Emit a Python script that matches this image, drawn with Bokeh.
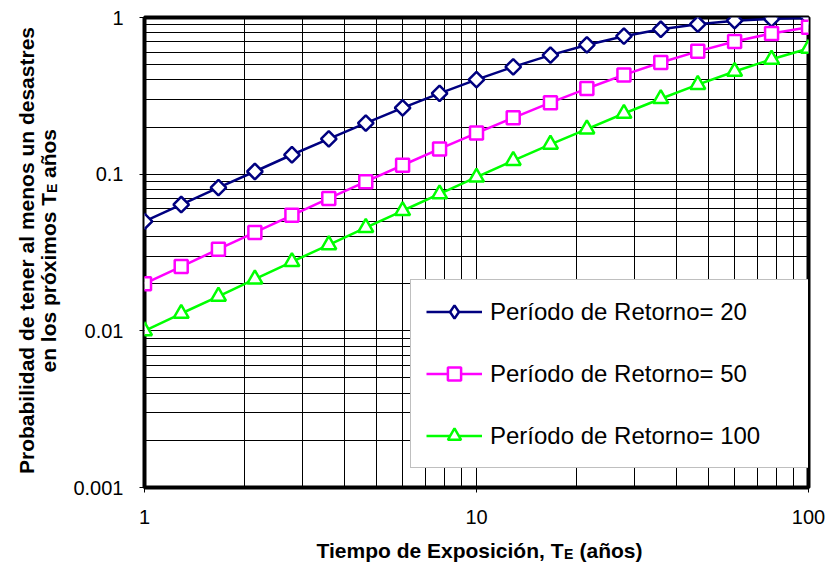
import math
from bokeh.plotting import figure
from bokeh.layouts import row, column
from bokeh.models import (Range1d, FixedTicker, NumeralTickFormatter, Legend, LegendItem, Label)
from bokeh.embed import file_html
from bokeh.resources import INLINE

# ---- data ----
te = [1, 1.29, 1.67, 2.15, 2.78, 3.59, 4.64, 5.99, 7.74, 10,
      12.9, 16.7, 21.5, 27.8, 35.9, 46.4, 59.9, 77.4, 100]
p20 = [0.050, 0.064, 0.082, 0.104, 0.133, 0.168, 0.212, 0.265, 0.328, 0.401,
       0.484, 0.575, 0.668, 0.760, 0.841, 0.907, 0.954, 0.981, 0.994]
p50 = [0.0200, 0.0257, 0.0332, 0.0425, 0.0546, 0.0700, 0.0895, 0.114, 0.145, 0.183,
       0.229, 0.286, 0.352, 0.430, 0.516, 0.608, 0.702, 0.791, 0.867]
p100 = [0.0100, 0.0129, 0.0166, 0.0214, 0.0276, 0.0354, 0.0456, 0.0584, 0.0748, 0.0956,
        0.122, 0.155, 0.194, 0.244, 0.303, 0.373, 0.452, 0.541, 0.634]
series_names = ["Período de Retorno= 20", "Período de Retorno= 50", "Período de Retorno= 100"]
x_ticks = [1, 10, 100]
y_ticks = [0.001, 0.01, 0.1, 1]

FONT = "Liberation Sans"
YT_W = 70      # width of the y-title strip
MAIN_H = 530   # height of the main chart
XT_H = 37      # height of the x-title strip

# ---------------- main chart ----------------
p = figure(width=830 - YT_W, height=MAIN_H, x_axis_type="log", y_axis_type="log",
           x_range=Range1d(1, 100), y_range=Range1d(0.001, 1),
           output_backend="svg", toolbar_location=None,
           min_border_left=74, min_border_right=22, min_border_top=17, min_border_bottom=43)
p.background_fill_color = "white"
p.border_fill_color = "white"
p.outline_line_color = "black"
p.outline_line_width = 4

x_minor = [d * k for d in (1, 10) for k in range(2, 10)]
y_minor = [d * k for d in (0.001, 0.01, 0.1) for k in range(2, 10)]
p.xaxis.ticker = FixedTicker(ticks=x_ticks, minor_ticks=x_minor)
p.yaxis.ticker = FixedTicker(ticks=y_ticks, minor_ticks=y_minor)
p.xaxis.formatter = NumeralTickFormatter(format="0")
p.yaxis.formatter = NumeralTickFormatter(format="0.[000]")

for ax in (p.xaxis, p.yaxis):
    ax.axis_line_color = None
    ax.major_tick_out = 5
    ax.major_tick_in = 0
    ax.major_tick_line_color = "black"
    ax.minor_tick_out = 0
    ax.minor_tick_in = 0
    ax.major_label_text_font = FONT
    ax.major_label_text_font_size = "20px"
    ax.major_label_text_color = "black"
p.xaxis.major_label_standoff = 17
p.yaxis.major_label_standoff = 16

for g in (p.xgrid, p.ygrid):
    g.grid_line_color = "black"
    g.grid_line_width = 1
    g.minor_grid_line_color = "black"
    g.minor_grid_line_width = 1

colors = ["#000080", "#FF00FF", "#00FF00"]
l1 = p.line(te, p20, line_color=colors[0], line_width=2.5)
# legend sample for series 1 (legend glyphs ignore marker angle); zero size on the chart
m1_leg = p.scatter(te, p20, marker="diamond", size=0, line_color=colors[0], line_width=2.5,
                   fill_color="white")
m1 = p.scatter(te, p20, marker="square", angle=math.pi / 4, size=11, line_color=colors[0],
               line_width=2.5, fill_color="white")
l2 = p.line(te, p50, line_color=colors[1], line_width=2.5)
m2 = p.scatter(te, p50, marker="square", size=13, line_color=colors[1],
               line_width=2.5, fill_color="white")
l3 = p.line(te, p100, line_color=colors[2], line_width=2.5)
m3 = p.scatter(te, p100, marker="triangle", size=15, line_color=colors[2],
               line_width=2.5, fill_color="white")

items = [LegendItem(label=series_names[0], renderers=[l1, m1_leg]),
         LegendItem(label=series_names[1], renderers=[l2, m2]),
         LegendItem(label=series_names[2], renderers=[l3, m3])]

legend = Legend(items=items, location=(266, 19), margin=0, padding=15,
                spacing=29, glyph_width=56, glyph_height=33, label_height=33,
                label_width=304, label_standoff=8,
                label_text_font=FONT, label_text_font_size="24px",
                label_text_color="black", label_text_baseline="middle",
                border_line_color="#808080", border_line_width=1,
                background_fill_color="white", background_fill_alpha=1)
p.add_layout(legend, "center")


def strip(w, h):
    f = figure(width=w, height=h, output_backend="svg", toolbar_location=None,
               x_axis_location=None, y_axis_location=None,
               min_border=0, min_border_left=0, min_border_right=0,
               min_border_top=0, min_border_bottom=0)
    f.grid.visible = False
    f.outline_line_color = None
    f.background_fill_color = "white"
    f.border_fill_color = "white"
    return f


tb = dict(text_font=FONT, text_font_style="bold", text_color="black",
          x_units="screen", y_units="screen", text_baseline="alphabetic")

# ---------------- y-title strip (its frame is aligned with the chart frame) ----------------
yt = strip(YT_W, MAIN_H)
a = math.pi / 2
yt.add_layout(Label(x=26, y=237, text="Probabilidad de tener al menos un desastres",
                    text_font_size="21px", angle=a, text_align="center", **tb))
yt.add_layout(Label(x=48, y=115, text="en los próximos T", text_font_size="21px",
                    angle=a, text_align="left", **tb))
yt.add_layout(Label(x=51, y=294.5, text="E", text_font_size="14px",
                    angle=a, text_align="left", **tb))
yt.add_layout(Label(x=48, y=309.5, text="años", text_font_size="21px",
                    angle=a, text_align="left", **tb))

# ---------------- x-title strip ----------------
xt = strip(830, XT_H)
xt.add_layout(Label(x=563, y=17, text="Tiempo de Exposición, T", text_font_size="21px",
                    text_align="right", **tb))
xt.add_layout(Label(x=563.5, y=14, text="E", text_font_size="14px",
                    text_align="left", **tb))
xt.add_layout(Label(x=579, y=17, text="(años)", text_font_size="21px",
                    text_align="left", **tb))

layout = column(row(yt, p, spacing=0), xt, spacing=0)
open("out.html", "w").write(file_html(layout, INLINE))
